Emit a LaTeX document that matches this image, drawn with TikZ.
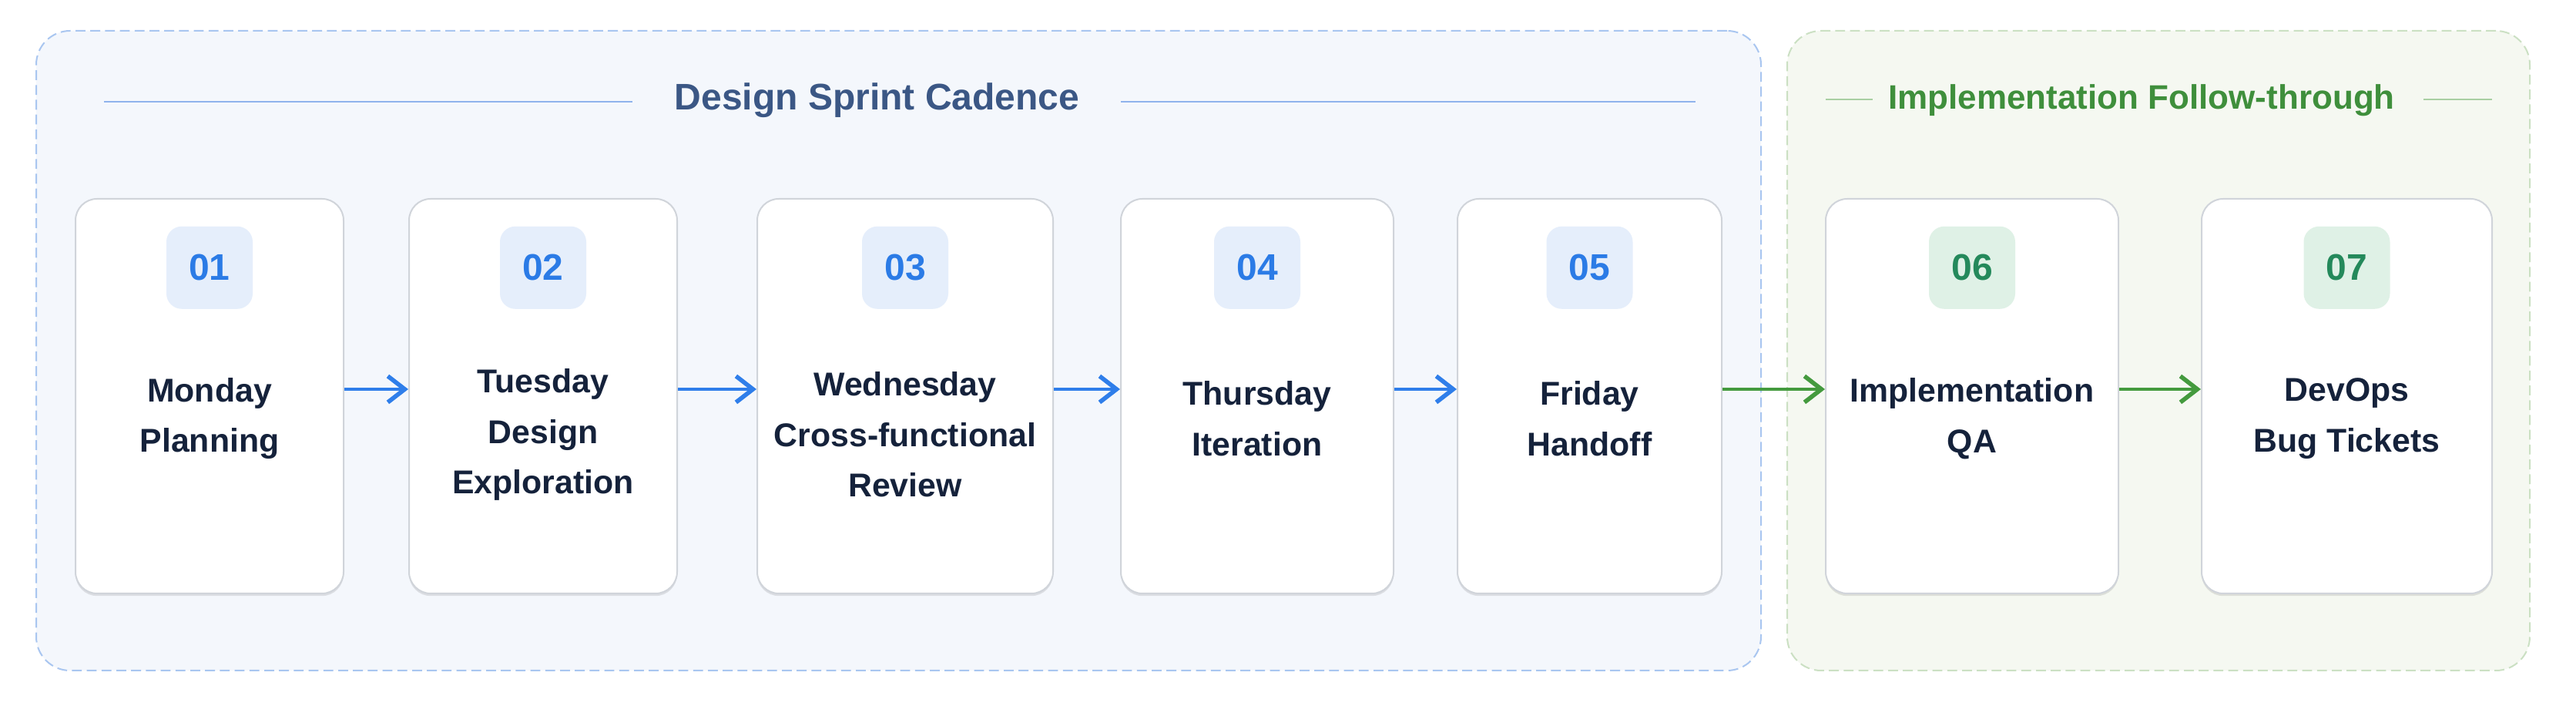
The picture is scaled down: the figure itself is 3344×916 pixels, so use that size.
\documentclass[tikz,border=0pt]{standalone}
\usepackage{fontspec}
\setmainfont{Liberation Sans}
\usetikzlibrary{positioning,arrows.meta,shadows}
\definecolor{ink}{HTML}{15223B}
\definecolor{cardline}{HTML}{D0D4DA}
\definecolor{sprintfill}{HTML}{F4F7FC}
\definecolor{sprintdash}{HTML}{A9C6F0}
\definecolor{sprinthead}{HTML}{3B5785}
\definecolor{sprintrule}{HTML}{8FB3EC}
\definecolor{sprintarrow}{HTML}{2F7EEA}
\definecolor{numblue}{HTML}{2B7BE6}
\definecolor{badgeblue}{HTML}{E5EEFB}
\definecolor{implfill}{HTML}{F5F8F1}
\definecolor{impldash}{HTML}{CBE0C3}
\definecolor{implhead}{HTML}{3F8F3C}
\definecolor{implrule}{HTML}{A9CFA3}
\definecolor{implarrow}{HTML}{449A3E}
\definecolor{numgreen}{HTML}{24895B}
\definecolor{badgegreen}{HTML}{DFF1E6}

\begin{document}
\begin{tikzpicture}[x=0.25pt,y=-0.25pt,
	card/.style={draw=cardline, line width=0.5pt, fill=white, rounded corners=7pt,
		minimum height=128pt, inner sep=0pt,
		drop shadow={shadow xshift=0pt, shadow yshift=-0.8pt, opacity=0.10, fill=black}},
	badge/.style={rounded corners=5pt, minimum width=28pt, minimum height=26.75pt,
		inner sep=0pt, font=\fontsize{12}{14}\selectfont\bfseries},
	bluebadge/.style={badge, fill=badgeblue, text=numblue},
	greenbadge/.style={badge, fill=badgegreen, text=numgreen},
	daytext/.style={align=center, text=ink, font=\fontsize{10.7}{16.4}\selectfont\bfseries},
	sprintflow/.style={draw=sprintarrow, line width=0.9pt,
		-{Straight Barb[length=5.5pt,width=8.5pt,line width=1.4pt]}},
	implflow/.style={draw=implarrow, line width=0.9pt,
		-{Straight Barb[length=5.5pt,width=8.5pt,line width=1.4pt]}},
	groupbox/.style={rounded corners=11pt, line width=0.5pt, dash pattern=on 3.2pt off 1.6pt,
		minimum height=207.5pt, inner sep=0pt}]

	% page and the two phases
	\fill[white] (0,0) rectangle (3344,916);
	\node (sprint) [groupbox, draw=sprintdash, fill=sprintfill, minimum width=559.75pt] at (1166.5,455) {};
	\node (impl) [groupbox, draw=impldash, fill=implfill, minimum width=241pt] at (2802,455) {};

	\node (sprinttitle) [anchor=base, text=sprinthead, font=\fontsize{12}{14}\selectfont\bfseries] at (1138.5,143) {Design Sprint Cadence};
	\draw[sprintrule, line width=0.5pt] (135,132) -- (821,132);
	\draw[sprintrule, line width=0.5pt] (1455,132) -- (2201,132);
	\node (impltitle) [anchor=base, text=implhead, font=\fontsize{11}{13}\selectfont\bfseries] at (2780,142) {Implementation Follow-through};
	\draw[implrule, line width=0.5pt] (2370,129) -- (2431,129);
	\draw[implrule, line width=0.5pt] (3146,129) -- (3235,129);

	% cards
	\node (mon) [card, minimum width=87pt] at (272,514) {};
	\node (tue) [card, minimum width=87pt] at (705,514) {};
	\node (wed) [card, minimum width=96pt] at (1175,514) {};
	\node (thu) [card, minimum width=88.5pt] at (1632,514) {};
	\node (fri) [card, minimum width=85.75pt] at (2063.5,514) {};
	\node (qa) [card, minimum width=95pt] at (2560,514) {};
	\node (ops) [card, minimum width=94.25pt] at (3046.5,514) {};

	% numbers
	\node (n1) [bluebadge, below=9pt of mon.north] {01};
	\node (n2) [bluebadge, below=9pt of tue.north] {02};
	\node (n3) [bluebadge, below=9pt of wed.north] {03};
	\node (n4) [bluebadge, below=9pt of thu.north] {04};
	\node (n5) [bluebadge, below=9pt of fri.north] {05};
	\node (n6) [greenbadge, below=9pt of qa.north] {06};
	\node (n7) [greenbadge, below=9pt of ops.north] {07};

	% day texts
	\node (t1) [daytext, yshift=-7.25pt] at (mon.center) {Monday\\Planning};
	\node (t2) [daytext, yshift=-12.5pt] at (tue.center) {Tuesday\\Design\\Exploration};
	\node (t3) [daytext, yshift=-12.5pt] at (wed.center) {Wednesday\\Cross-functional\\Review};
	\node (t4) [daytext, yshift=-7.25pt] at (thu.center) {Thursday\\Iteration};
	\node (t5) [daytext, yshift=-7.25pt] at (fri.center) {Friday\\Handoff};
	\node (t6) [daytext, yshift=-7.25pt] at (qa.center) {Implementation\\QA};
	\node (t7) [daytext, yshift=-7.25pt] at (ops.center) {DevOps\\Bug Tickets};

	% flow
	\draw[sprintflow] ([yshift=2.25pt]mon.east) -- ([yshift=2.25pt]tue.west);
	\draw[sprintflow] ([yshift=2.25pt]tue.east) -- ([yshift=2.25pt]wed.west);
	\draw[sprintflow] ([yshift=2.25pt]wed.east) -- ([yshift=2.25pt]thu.west);
	\draw[sprintflow] ([yshift=2.25pt]thu.east) -- ([yshift=2.25pt]fri.west);
	\draw[implflow] ([yshift=2.25pt]fri.east) -- ([yshift=2.25pt]qa.west);
	\draw[implflow] ([yshift=2.25pt]qa.east) -- ([yshift=2.25pt]ops.west);
\end{tikzpicture}
\end{document}
